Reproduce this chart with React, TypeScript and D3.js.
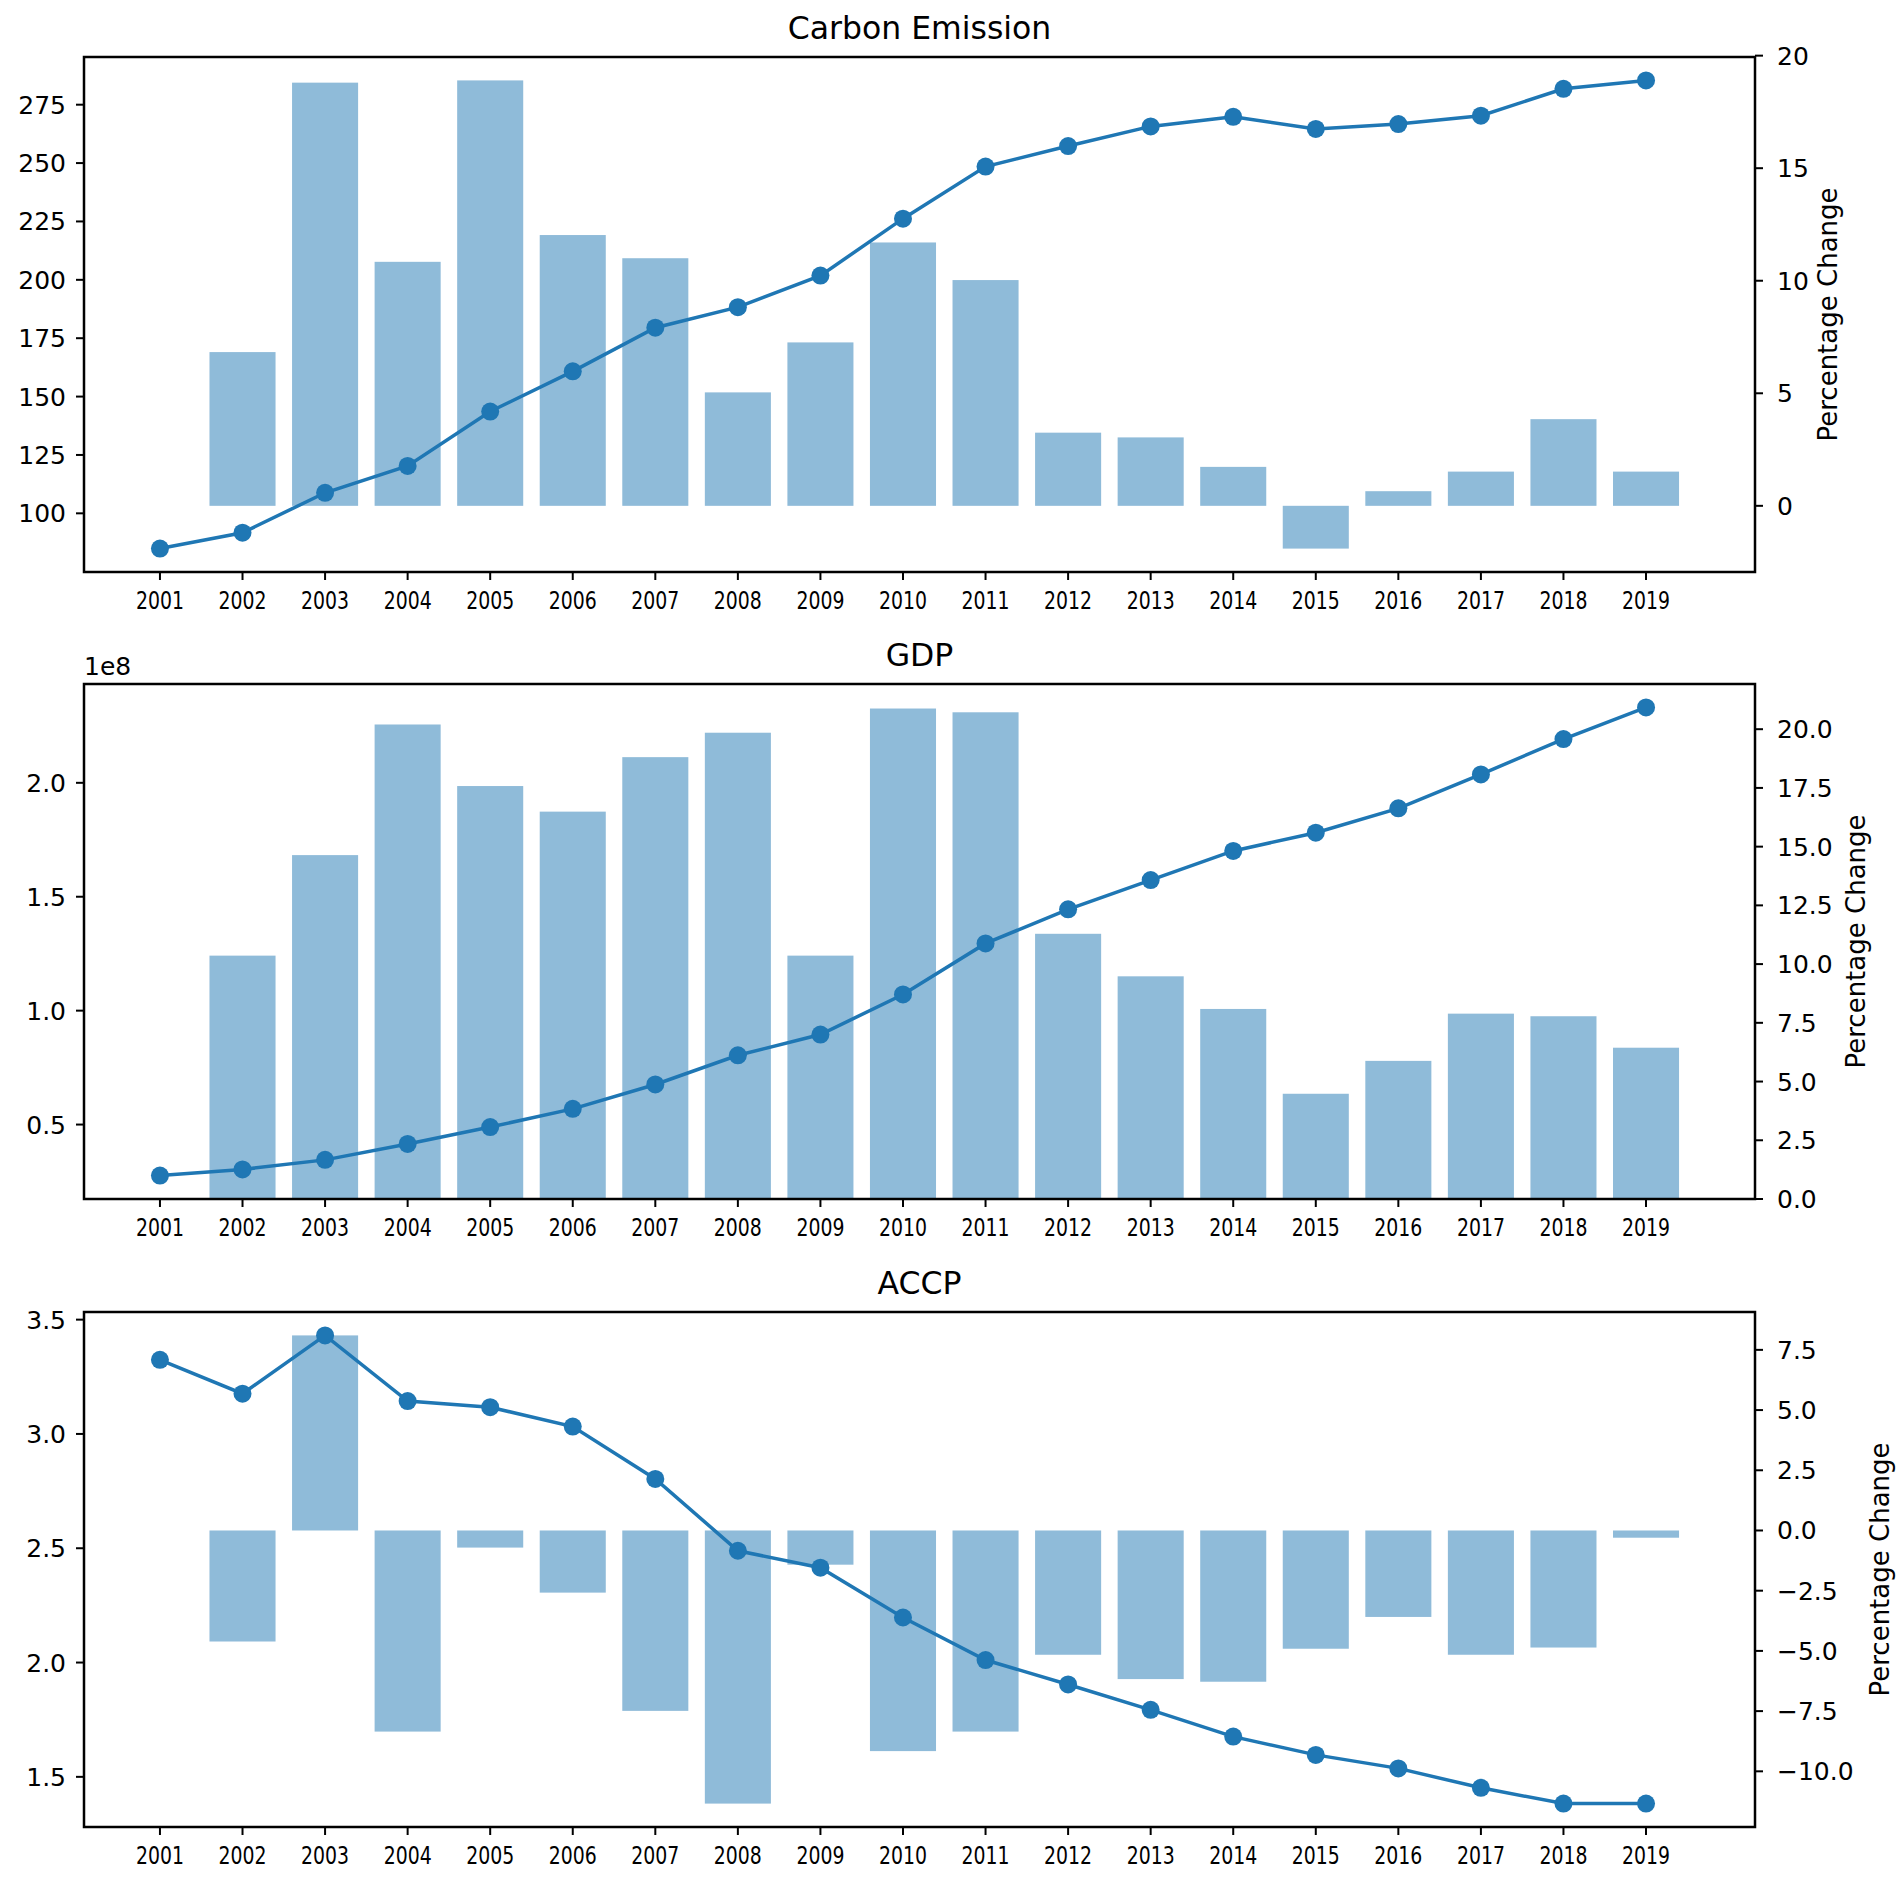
import React from "react";
import * as d3 from "d3";

const years = [2001, 2002, 2003, 2004, 2005, 2006, 2007, 2008, 2009, 2010, 2011, 2012, 2013, 2014, 2015, 2016, 2017, 2018, 2019];
const barYears = [2002, 2003, 2004, 2005, 2006, 2007, 2008, 2009, 2010, 2011, 2012, 2013, 2014, 2015, 2016, 2017, 2018, 2019];

const carbonValues = [84.9, 91.7, 108.8, 120.3, 143.6, 160.8, 179.5, 188.3, 201.8, 226.2, 248.5, 257.3, 265.7, 269.8, 264.6, 266.7, 270.3, 281.8, 285.4];
const carbonPct = [6.83, 18.8, 10.84, 18.9, 12.03, 11.0, 5.04, 7.26, 11.7, 10.03, 3.25, 3.04, 1.73, -1.9, 0.65, 1.52, 3.85, 1.52];

const gdpValues = [0.276e8, 0.303e8, 0.345e8, 0.415e8, 0.489e8, 0.569e8, 0.676e8, 0.804e8, 0.895e8, 1.071e8, 1.295e8, 1.445e8, 1.573e8, 1.701e8, 1.781e8, 1.888e8, 2.037e8, 2.192e8, 2.331e8];
const gdpPct = [10.36, 14.64, 20.2, 17.58, 16.49, 18.81, 19.85, 10.36, 20.88, 20.72, 11.29, 9.48, 8.09, 4.48, 5.88, 7.89, 7.78, 6.44];

const accpValues = [3.324, 3.176, 3.431, 3.144, 3.117, 3.032, 2.803, 2.489, 2.415, 2.197, 2.011, 1.904, 1.793, 1.676, 1.596, 1.537, 1.452, 1.383, 1.383];
const accpPct = [-4.61, 8.1, -8.35, -0.71, -2.58, -7.49, -11.34, -1.42, -9.16, -8.35, -5.16, -6.17, -6.28, -4.91, -3.59, -5.16, -4.86, -0.3];

const carbonLeftTicks = [100, 125, 150, 175, 200, 225, 250, 275];
const carbonRightTicks = [0, 5, 10, 15, 20];
const gdpLeftTicks = [0.5e8, 1.0e8, 1.5e8, 2.0e8];
const gdpRightTicks = [0, 2.5, 5, 7.5, 10, 12.5, 15, 17.5, 20];
const accpLeftTicks = [1.5, 2.0, 2.5, 3.0, 3.5];
const accpRightTicks = [-10, -7.5, -5, -2.5, 0, 2.5, 5, 7.5];

const titles = ["Carbon Emission", "GDP", "ACCP"];

const FONT = "DejaVu Sans";
const BLUE = "#1f77b4";
const L = 84;
const R = 1755;
const PH = 515;
const TOPS = [57, 684, 1312];
const LABEL_X = [1828, 1856, 1880];

const fmtMinus = (s: string) => s.replace("-", "\u2212");

function lineDomain(v: number[]): [number, number] {
  const [a, b] = d3.extent(v) as [number, number];
  const m = (b - a) * 0.05;
  return [a - m, b + m];
}
function barDomain(v: number[]): [number, number] {
  const lo = Math.min(0, d3.min(v)!);
  const hi = Math.max(0, d3.max(v)!);
  const span = hi - lo;
  return [lo === 0 ? 0 : lo - span * 0.05, hi === 0 ? 0 : hi + span * 0.05];
}

const barW = 0.8;
const xMin = Math.min(d3.min(years)!, d3.min(barYears)! - barW / 2);
const xMax = Math.max(d3.max(years)!, d3.max(barYears)! + barW / 2);
const xm = (xMax - xMin) * 0.05;
const x = d3.scaleLinear().domain([xMin - xm, xMax + xm]).range([L, R]);

type PanelProps = {
  idx: number;
  values: number[];
  pct: number[];
  leftTicks: number[];
  rightTicks: number[];
  leftFmt: (v: number) => string;
  rightFmt: (v: number) => string;
  offsetText?: string;
};

function Panel({ idx, values, pct, leftTicks, rightTicks, leftFmt, rightFmt, offsetText }: PanelProps) {
  const top = TOPS[idx];
  const bottom = top + PH;
  const yL = d3.scaleLinear().domain(lineDomain(values)).range([bottom, top]);
  const yR = d3.scaleLinear().domain(barDomain(pct)).range([bottom, top]);
  const line = d3
    .line<number>()
    .x((_, i) => x(years[i]))
    .y((d) => yL(d));
  const bw = x(barW) - x(0);
  return (
    <g>
      <text x={(L + R) / 2} y={top - 18} textAnchor="middle" fontFamily={FONT} fontSize={31.5} fill="#000">
        {titles[idx]}
      </text>
      {offsetText && (
        <text x={L} y={top - 9} fontFamily={FONT} fontSize={25} fill="#000">
          {offsetText}
        </text>
      )}
      {pct.map((p, i) => {
        const y0 = yR(0);
        const y1 = yR(p);
        return (
          <rect
            key={i}
            x={x(barYears[i]) - bw / 2}
            y={Math.min(y0, y1)}
            width={bw}
            height={Math.abs(y1 - y0)}
            fill={BLUE}
            fillOpacity={0.5}
          />
        );
      })}
      <path d={line(values) || ""} fill="none" stroke={BLUE} strokeWidth={3.5} />
      {values.map((v, i) => (
        <circle key={i} cx={x(years[i])} cy={yL(v)} r={9} fill={BLUE} />
      ))}
      <rect x={L} y={top} width={R - L} height={PH} fill="none" stroke="#000" strokeWidth={2.5} />
      {leftTicks.map((t, i) => (
        <g key={i}>
          <line x1={L - 8} x2={L} y1={yL(t)} y2={yL(t)} stroke="#000" strokeWidth={2} />
          <text x={L - 18} y={yL(t)} dy="0.36em" textAnchor="end" fontFamily={FONT} fontSize={25} fill="#000">
            {leftFmt(t)}
          </text>
        </g>
      ))}
      {rightTicks.map((t, i) => (
        <g key={i}>
          <line x1={R} x2={R + 8} y1={yR(t)} y2={yR(t)} stroke="#000" strokeWidth={2} />
          <text x={R + 22} y={yR(t)} dy="0.36em" textAnchor="start" fontFamily={FONT} fontSize={25} fill="#000">
            {fmtMinus(rightFmt(t))}
          </text>
        </g>
      ))}
      {years.map((yr, i) => (
        <g key={i}>
          <line x1={x(yr)} x2={x(yr)} y1={bottom} y2={bottom + 8} stroke="#000" strokeWidth={2} />
          <text
            x={x(yr)}
            y={bottom + 37}
            textAnchor="middle"
            fontFamily={FONT}
            fontSize={25}
            textLength={48}
            lengthAdjust="spacingAndGlyphs"
            fill="#000"
          >
            {String(yr)}
          </text>
        </g>
      ))}
      <text
        transform={`translate(${LABEL_X[idx]},${(top + bottom) / 2}) rotate(-90)`}
        textAnchor="middle"
        dy="0.35em"
        fontFamily={FONT}
        fontSize={26}
        fill="#000"
      >
        Percentage Change
      </text>
    </g>
  );
}

export default function App() {
  return (
    <svg
      width={1902}
      height={1881}
      style={{ position: "absolute", left: 0, top: 0, background: "#fff" }}
    >
      <rect width={1902} height={1881} fill="#fff" />
      <Panel
        idx={0}
        values={carbonValues}
        pct={carbonPct}
        leftTicks={carbonLeftTicks}
        rightTicks={carbonRightTicks}
        leftFmt={(v) => d3.format("d")(v)}
        rightFmt={(v) => d3.format("d")(v)}
      />
      <Panel
        idx={1}
        values={gdpValues}
        pct={gdpPct}
        leftTicks={gdpLeftTicks}
        rightTicks={gdpRightTicks}
        leftFmt={(v) => d3.format(".1f")(v / 1e8)}
        rightFmt={(v) => d3.format(".1f")(v)}
        offsetText="1e8"
      />
      <Panel
        idx={2}
        values={accpValues}
        pct={accpPct}
        leftTicks={accpLeftTicks}
        rightTicks={accpRightTicks}
        leftFmt={(v) => d3.format(".1f")(v)}
        rightFmt={(v) => d3.format(".1f")(v)}
      />
    </svg>
  );
}
